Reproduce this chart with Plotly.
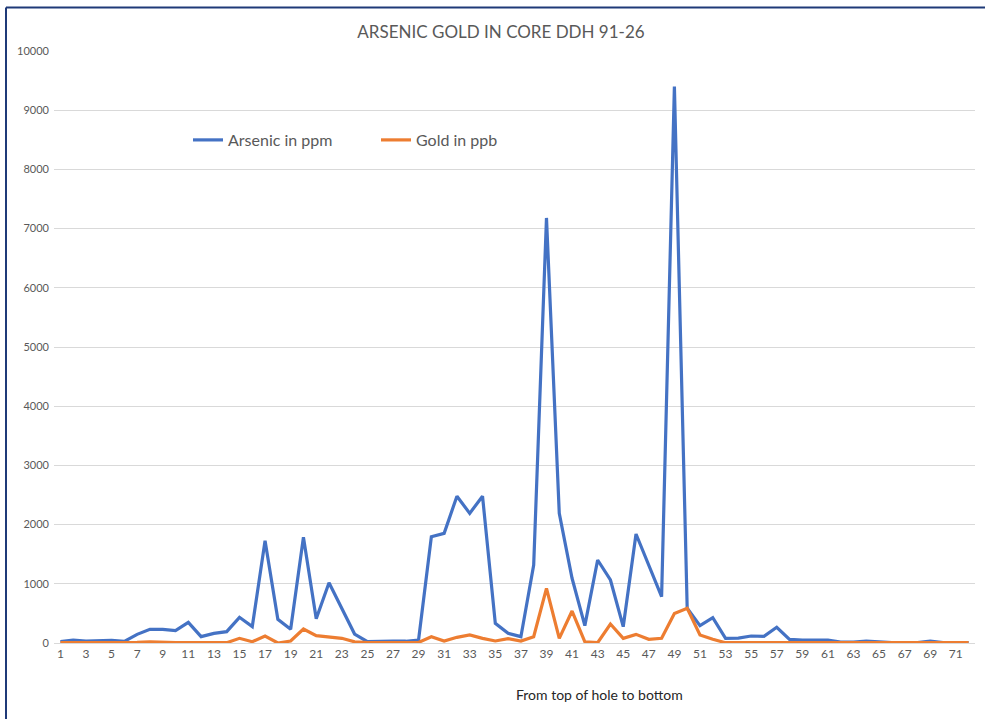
import plotly.graph_objects as go

# Sample intervals down the hole (1 = top)
sample_no = list(range(1, 73))

arsenic_ppm = [
    22, 50, 34, 35, 45, 28, 146, 231, 231, 208,
    349, 107, 163, 192, 434, 276, 1729, 400, 231, 1785,
    411, 1019, 586, 152, 22, 30, 30, 30, 50, 1796,
    1853, 2480, 2190, 2480, 332, 164, 107, 1318, 7180, 2190,
    1093, 293, 1402, 1064, 276, 1841, 1300, 782, 9400, 586,
    293, 428, 79, 82, 118, 113, 265, 62, 50, 45,
    50, 17, 15, 30, 15, 8, 8, 8, 30, 8,
    8, 8,
]

gold_ppb = [
    5, 5, 5, 5, 5, 5, 10, 20, 10, 5,
    5, 5, 5, 5, 79, 22, 118, 0, 34, 236,
    124, 101, 79, 20, 5, 5, 5, 5, 10, 107,
    34, 96, 135, 79, 34, 73, 34, 107, 923, 79,
    540, 20, 5, 321, 79, 146, 62, 79, 500, 586,
    135, 62, 5, 5, 5, 5, 5, 5, 5, 5,
    5, 5, 5, 5, 5, 5, 5, 5, 10, 5,
    5, 5,
]

y_ticks = list(range(0, 10001, 1000))
x_ticks = list(range(1, 72, 2))

W, H = 985, 719
ML, MR, MT, MB = 54, 10, 51, 76
PW, PH = W - ML - MR, H - MT - MB


def px_to_paper_x(px):
    return (px - ML) / PW


def px_to_paper_y(py):
    return (H - MB - py) / PH


fig = go.Figure()
fig.add_trace(go.Scatter(
    x=sample_no, y=arsenic_ppm, mode="lines", name="Arsenic in ppm",
    line=dict(color="#4472C4", width=3.2),
))
fig.add_trace(go.Scatter(
    x=sample_no, y=gold_ppb, mode="lines", name="Gold in ppb",
    line=dict(color="#ED7D31", width=3.2),
))

font_family = "Lato, 'Open Sans', Arial, sans-serif"

fig.update_layout(
    width=W, height=H,
    margin=dict(l=ML, r=MR, t=MT, b=MB),
    paper_bgcolor="white", plot_bgcolor="white",
    font=dict(family=font_family, color="#595959"),
    title=dict(
        text="ARSENIC GOLD IN CORE DDH 91-26",
        x=px_to_paper_x(501), xref="paper", xanchor="center",
        y=1 - 32 / H, yref="container", yanchor="middle",
        font=dict(size=17, color="#595959", family=font_family),
    ),
    showlegend=True,
    legend=dict(
        orientation="h",
        x=px_to_paper_x(188), xanchor="left",
        y=px_to_paper_y(140), yanchor="middle",
        font=dict(size=16, color="#595959"),
        bgcolor="rgba(0,0,0,0)",
        itemwidth=30,
        entrywidth=143, entrywidthmode="pixels",
    ),
    xaxis=dict(
        range=[0.5, 72.5],
        tickmode="array", tickvals=x_ticks, ticktext=[str(v) for v in x_ticks],
        showgrid=False, zeroline=False,
        showline=True, linecolor="#D9D9D9", linewidth=1,
        ticks="", tickfont=dict(size=12, color="#595959"),
    ),
    yaxis=dict(
        range=[0, 10000],
        tickmode="array", tickvals=y_ticks, ticktext=[str(v) for v in y_ticks],
        showgrid=True, gridcolor="#D9D9D9", gridwidth=1,
        zeroline=False, showline=False, ticks="",
        tickfont=dict(size=11, color="#595959"),
        ticklabelstandoff=4,
    ),
    annotations=[
        dict(text="From top of hole to bottom", showarrow=False,
             xref="paper", yref="paper",
             x=px_to_paper_x(599), y=px_to_paper_y(694),
             xanchor="center", yanchor="middle",
             font=dict(size=14, color="#262626", family=font_family)),
    ],
    shapes=[
        # frame edges along the top and left of the chart
        dict(type="line", xref="paper", yref="paper",
             x0=px_to_paper_x(6), x1=px_to_paper_x(990),
             y0=px_to_paper_y(7.5), y1=px_to_paper_y(7.5),
             line=dict(color="#1F3A78", width=2)),
        dict(type="line", xref="paper", yref="paper",
             x0=px_to_paper_x(6), x1=px_to_paper_x(6),
             y0=px_to_paper_y(7.5), y1=px_to_paper_y(725),
             line=dict(color="#1F3A78", width=2)),
    ],
)

fig.write_html("out.html")
